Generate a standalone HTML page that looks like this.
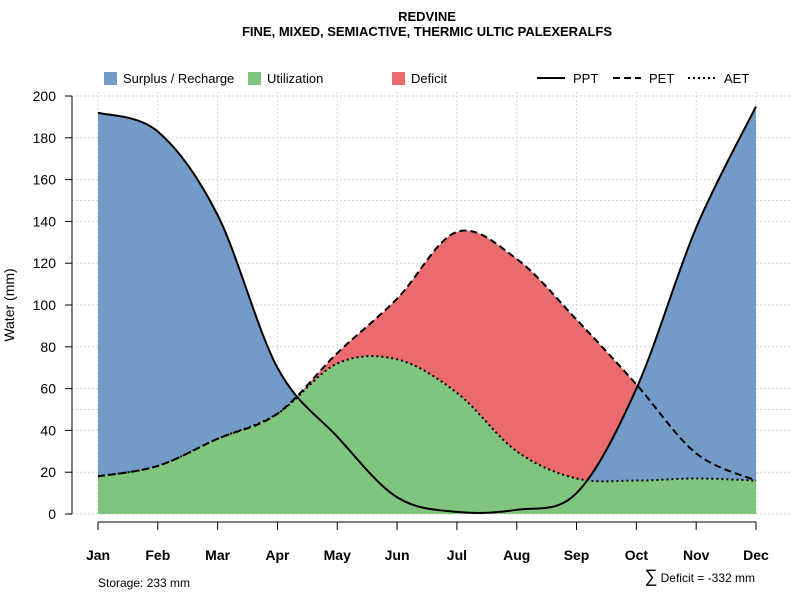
<!DOCTYPE html>
<html><head><meta charset="utf-8"><style>
body{margin:0;background:#fff;font-family:"Liberation Sans",sans-serif}
svg text{font-family:"Liberation Sans",sans-serif}
</style></head><body>
<svg id="chart" width="800" height="600" viewBox="0 0 800 600" xmlns="http://www.w3.org/2000/svg">
<text x="427" y="21" font-size="13" font-weight="bold" text-anchor="middle">REDVINE</text>
<text x="427" y="36" font-size="13" font-weight="bold" text-anchor="middle">FINE, MIXED, SEMIACTIVE, THERMIC ULTIC PALEXERALFS</text>
<g id="grid"></g>
<g id="fills"></g>
<g id="lines"></g>
<g id="axes"></g>
<text transform="translate(14,305) rotate(-90)" font-size="14" text-anchor="middle">Water (mm)</text>
<g font-size="13">
<rect x="104" y="72" width="13" height="13" fill="#729bc7"/>
<text x="123" y="83">Surplus / Recharge</text>
<rect x="248" y="72" width="13" height="13" fill="#7fc57d"/>
<text x="267" y="83">Utilization</text>
<rect x="392" y="72" width="13" height="13" fill="#ea6b6d"/>
<text x="411" y="83">Deficit</text>
<line x1="537" y1="78" x2="565" y2="78" stroke="#000" stroke-width="2"/>
<text x="573" y="83">PPT</text>
<line x1="613" y1="78" x2="641" y2="78" stroke="#000" stroke-width="2" stroke-dasharray="7,4"/>
<text x="649" y="83">PET</text>
<line x1="688" y1="78" x2="716" y2="78" stroke="#000" stroke-width="2" stroke-dasharray="2,3"/>
<text x="724" y="83">AET</text>
</g>
<text x="98" y="587" font-size="12">Storage: 233 mm</text>
<text x="755" y="582" font-size="12" text-anchor="end"><tspan font-size="18">∑</tspan> Deficit = -332 mm</text>
</svg>
<script>
const months=["Jan","Feb","Mar","Apr","May","Jun","Jul","Aug","Sep","Oct","Nov","Dec"];
const ppt=[192,183,143,70,37,8,1,2,10,60,137,195];
const pet=[18,23,36,48,77,103,135,122,93,62,29,16];
const aet=[18,23,36,48,72,74,58,30,17,16,17,16];
const yTicks=[0,20,40,60,80,100,120,140,160,180,200];
const NS="http://www.w3.org/2000/svg";
const X=i=>98+i*(756-98)/11;
const Y=v=>514-v*(514-96)/200;
function mk(tag,attrs,parent){const e=document.createElementNS(NS,tag);for(const k in attrs)e.setAttribute(k,attrs[k]);parent.appendChild(e);return e;}
function curve(vals){
  const p=vals.map((v,i)=>[X(i),Y(v)]);
  let d="M"+p[0][0]+","+p[0][1];
  for(let i=0;i<p.length-1;i++){
    const p0=p[Math.max(i-1,0)],p1=p[i],p2=p[i+1],p3=p[Math.min(i+2,p.length-1)];
    const c1=[p1[0]+(p2[0]-p0[0])/6,p1[1]+(p2[1]-p0[1])/6];
    const c2=[p2[0]-(p3[0]-p1[0])/6,p2[1]-(p3[1]-p1[1])/6];
    d+=` C${c1[0]},${c1[1]} ${c2[0]},${c2[1]} ${p2[0]},${p2[1]}`;
  }
  return d;
}
function area(vals){return curve(vals)+` L${X(vals.length-1)},${Y(0)} L${X(0)},${Y(0)} Z`;}
const grid=document.getElementById('grid'),fills=document.getElementById('fills'),lines=document.getElementById('lines'),axes=document.getElementById('axes');
yTicks.forEach(t=>{
  const g=mk('line',{x1:72,x2:790,y1:Y(t),y2:Y(t),stroke:'#d6d6d6','stroke-dasharray':'2,2'},grid);
  
  
  const tk=mk('line',{x1:65,x2:72,y1:Y(t),y2:Y(t),stroke:'#000'},axes);
  
  
  const tx=mk('text',{x:56,y:Y(t)+5,'font-size':14,'text-anchor':'end'},axes);
  tx.textContent=t;
  
  
});
[50,150].forEach(t=>{
  const g=mk('line',{x1:72,x2:790,y1:Y(t),y2:Y(t),stroke:'#d6d6d6','stroke-dasharray':'2,2'},grid);
  
  
});
months.forEach((m,i)=>{
  const g=mk('line',{x1:X(i),x2:X(i),y1:92,y2:514,stroke:'#d6d6d6','stroke-dasharray':'2,2'},grid);
  
  
  const tk=mk('line',{x1:X(i),x2:X(i),y1:522,y2:530,stroke:'#000'},axes);
  
  
  const tx=mk('text',{x:X(i),y:560,'font-size':14,'font-weight':'bold','text-anchor':'middle'},axes);
  tx.textContent=m;
  
  
});
const ya=mk('line',{x1:72,x2:72,y1:Y(200),y2:Y(0),stroke:'#000'},axes);


const xa=mk('line',{x1:X(0),x2:X(11),y1:522,y2:522,stroke:'#000'},axes);


const fd=mk('path',{d:area(pet),fill:'#ea6b6d'},fills);


const fs=mk('path',{d:area(ppt),fill:'#729bc7'},fills);


const fu=mk('path',{d:area(aet),fill:'#7fc57d'},fills);


const lp=mk('path',{d:curve(ppt),fill:'none',stroke:'#000','stroke-width':2},lines);


const le=mk('path',{d:curve(pet),fill:'none',stroke:'#000','stroke-width':2,'stroke-dasharray':'7,4'},lines);


const la=mk('path',{d:curve(aet),fill:'none',stroke:'#000','stroke-width':2,'stroke-dasharray':'2,3'},lines);


</script>
</body></html>
